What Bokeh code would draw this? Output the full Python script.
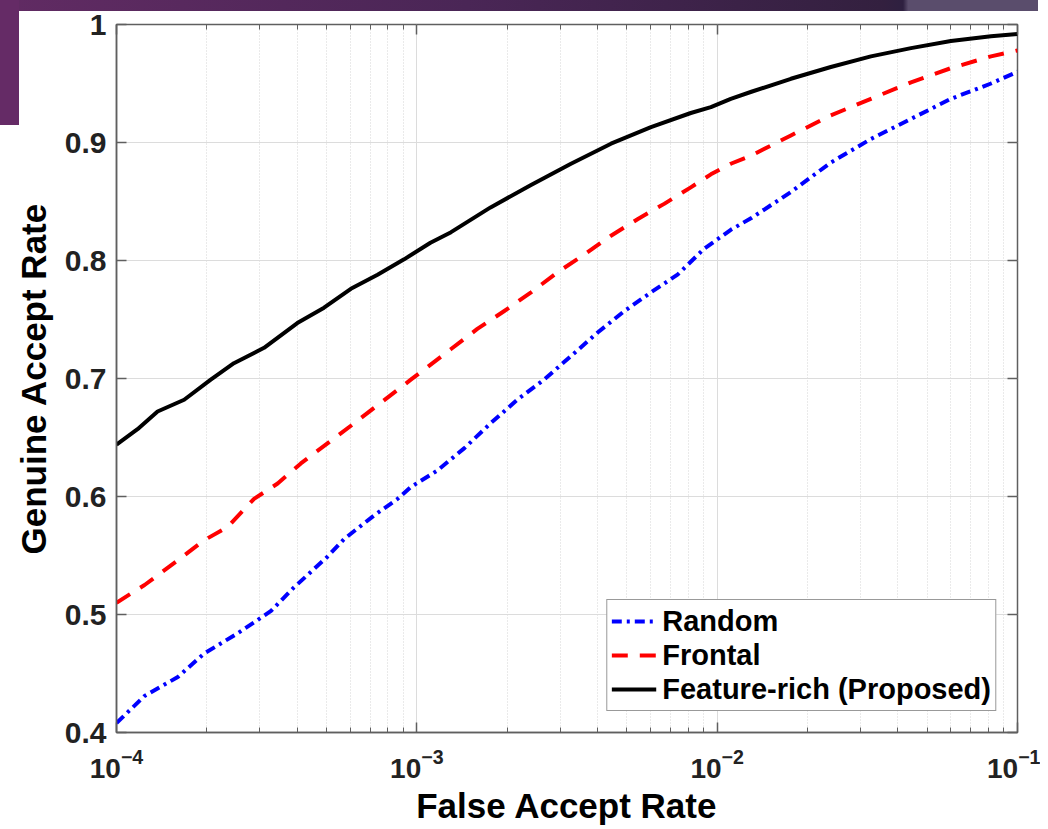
from bokeh.plotting import figure
from bokeh.models import (Range1d, FixedTicker, LogAxis, LinearAxis, Legend, LegendItem,
                          CustomJSTickFormatter)
from bokeh.embed import file_html
from bokeh.resources import INLINE

# ---------------- data ----------------
far_random = [1.0e-4, 1.24e-4, 1.6e-4, 1.96e-4, 2.53e-4, 3.27e-4, 3.9e-4, 5.04e-4, 5.73e-4,
              7.21e-4, 8.63e-4, 9.55e-4, 1.17e-3, 1.44e-3, 1.76e-3, 2.16e-3, 2.65e-3, 3.26e-3,
              4.0e-3, 4.9e-3, 6.02e-3, 7.38e-3, 9.05e-3, 1.11e-2, 1.3e-2, 1.76e-2, 2.39e-2,
              3.25e-2, 4.42e-2, 6.0e-2, 8.16e-2, 1.0e-1]
gar_random = [0.408, 0.431, 0.447, 0.467, 0.484, 0.503, 0.523, 0.549, 0.564,
              0.584, 0.598, 0.608, 0.622, 0.641, 0.662, 0.682, 0.699, 0.719,
              0.739, 0.757, 0.773, 0.788, 0.810, 0.826, 0.836, 0.858, 0.883,
              0.903, 0.920, 0.937, 0.950, 0.960]

far_frontal = [1.0e-4, 1.24e-4, 1.6e-4, 1.96e-4, 2.34e-4, 2.87e-4, 3.44e-4, 4.11e-4, 5.04e-4,
               6.18e-4, 9.55e-4, 1.3e-3, 1.59e-3, 1.95e-3, 2.4e-3, 2.94e-3, 3.61e-3, 4.43e-3,
               5.43e-3, 6.66e-3, 8.17e-3, 9.53e-3, 1.11e-2, 1.3e-2, 1.76e-2, 2.39e-2, 3.25e-2,
               4.42e-2, 6.0e-2, 8.16e-2, 1.0e-1]
gar_frontal = [0.510, 0.525, 0.546, 0.563, 0.574, 0.598, 0.611, 0.628, 0.645,
               0.662, 0.699, 0.725, 0.742, 0.757, 0.773, 0.790, 0.805, 0.821,
               0.835, 0.848, 0.862, 0.873, 0.882, 0.889, 0.906, 0.923, 0.937,
               0.951, 0.963, 0.973, 0.978]

far_feature = [1.0e-4, 1.175e-4, 1.37e-4, 1.68e-4, 2.06e-4, 2.46e-4, 3.1e-4, 4.0e-4, 4.91e-4,
               6.03e-4, 7.4e-4, 9.07e-4, 1.11e-3, 1.3e-3, 1.76e-3, 2.4e-3, 3.26e-3, 4.43e-3,
               6.02e-3, 8.17e-3, 9.53e-3, 1.11e-2, 1.3e-2, 1.76e-2, 2.39e-2, 3.25e-2, 4.42e-2,
               6.0e-2, 8.16e-2, 1.0e-1]
gar_feature = [0.644, 0.657, 0.672, 0.682, 0.699, 0.713, 0.726, 0.747, 0.760,
               0.776, 0.788, 0.801, 0.815, 0.824, 0.845, 0.864, 0.882, 0.899,
               0.913, 0.925, 0.930, 0.937, 0.943, 0.954, 0.964, 0.973, 0.980,
               0.986, 0.990, 0.992]

series_names = ["Random", "Frontal", "Feature-rich (Proposed)"]
x_ticks = [1e-4, 1e-3, 1e-2, 1e-1]
y_ticks = [0.4, 0.5, 0.6, 0.7, 0.8, 0.9, 1.0]
y_tick_labels = ["0.4", "0.5", "0.6", "0.7", "0.8", "0.9", "1"]
x_label = "False Accept Rate"
y_label = "Genuine Accept Rate"

# ---------------- figure ----------------
FONT = "Liberation Sans"
AX = "#5f5f5f"

x_minor = [m * d for d in x_ticks[:-1] for m in range(2, 10)]

p = figure(width=1040, height=829, x_axis_type="log",
           x_range=Range1d(x_ticks[0], x_ticks[-1]), y_range=Range1d(y_ticks[0], y_ticks[-1]),
           output_backend="svg", toolbar_location=None,
           min_border_left=116, min_border_right=23, min_border_top=24, min_border_bottom=97)
p.background_fill_color = "white"
p.border_fill_alpha = 0
# slide decoration behind the figure (purple bars at the top-left of the slide)
p.styles = {
    "background": ("linear-gradient(#652b66, #652b66) 0 0 / 19px 125px no-repeat, "
                   "linear-gradient(to right, #612b63 0%, #4a2656 45%, #33203f 85%, "
                   "#2e2040 87%, #5a4d6c 87.5%, #5a4d6c 100%) 0 0 / 1038px 11px no-repeat, "
                   "#ffffff"),
}
p.outline_line_color = AX
p.outline_line_width = 1.5

# grids
p.xgrid.grid_line_color = "#dcdcdc"
p.xgrid.grid_line_width = 1
p.xgrid.minor_grid_line_color = "#d4d4d4"
p.xgrid.minor_grid_line_dash = "1 2"
p.ygrid.grid_line_color = "#dcdcdc"
p.ygrid.grid_line_width = 1

xt = FixedTicker(ticks=x_ticks, minor_ticks=x_minor)
yt = FixedTicker(ticks=y_ticks)
p.xgrid.ticker = xt
p.ygrid.ticker = yt


def style_axis(ax):
    ax.axis_line_color = AX
    ax.axis_line_width = 1.5
    ax.major_tick_line_color = AX
    ax.minor_tick_line_color = AX
    ax.major_tick_line_width = 1.5
    ax.minor_tick_line_width = 1
    ax.major_tick_in = 10
    ax.major_tick_out = 0
    ax.minor_tick_in = 5
    ax.minor_tick_out = 0
    ax.major_label_text_font = FONT
    ax.major_label_text_font_style = "bold"
    ax.major_label_text_font_size = "28px"
    ax.major_label_text_color = "#222222"
    ax.axis_label_text_font = FONT
    ax.axis_label_text_font_style = "bold"
    ax.axis_label_text_font_size = "35px"
    ax.axis_label_text_color = "#000000"


xa = p.xaxis[0]
xa.ticker = xt
style_axis(xa)
xa.axis_label = x_label
xa.major_label_standoff = 16
xa.axis_label_standoff = 5

ya = p.yaxis[0]
ya.ticker = yt
style_axis(ya)
ya.minor_tick_in = 0
ya.major_label_text_font_size = "30px"
ya.axis_label = y_label
ya.major_label_overrides = {t: l for t, l in zip(y_ticks, y_tick_labels)}
ya.major_label_standoff = 10
ya.axis_label_standoff = 9

top = LogAxis(ticker=xt, formatter=CustomJSTickFormatter(code="return ''"))
style_axis(top)
top.axis_line_color = None
top.major_label_text_font_size = "1px"
p.add_layout(top, "above")

right = LinearAxis(ticker=yt, formatter=CustomJSTickFormatter(code="return ''"))
style_axis(right)
right.axis_line_color = None
right.minor_tick_in = 0
right.major_label_text_font_size = "1px"
p.add_layout(right, "right")

# ---------------- curves ----------------
r_rand = p.line(far_random, gar_random, line_color="#0000ff", line_width=4,
                line_dash="10 5 3 5", line_join="round")
r_front = p.line(far_frontal, gar_frontal, line_color="#ff0000", line_width=4,
                 line_dash="16 12", line_join="round")
r_feat = p.line(far_feature, gar_feature, line_color="#000000", line_width=4,
                line_join="round")

legend = Legend(items=[LegendItem(label=n, renderers=[r]) for n, r in
                       zip(series_names, [r_rand, r_front, r_feat])],
                location="bottom_right")
legend.margin = 21
legend.padding = 4
legend.spacing = 0
legend.glyph_width = 45
legend.glyph_height = 34
legend.label_height = 34
legend.label_standoff = 6
legend.label_text_font = FONT
legend.label_text_font_style = "bold"
legend.label_text_font_size = "29px"
legend.label_text_color = "#000000"
legend.border_line_color = "#333333"
legend.border_line_width = 1.5
legend.background_fill_alpha = 1
p.add_layout(legend)

open("out.html", "w").write(file_html(p, INLINE))
